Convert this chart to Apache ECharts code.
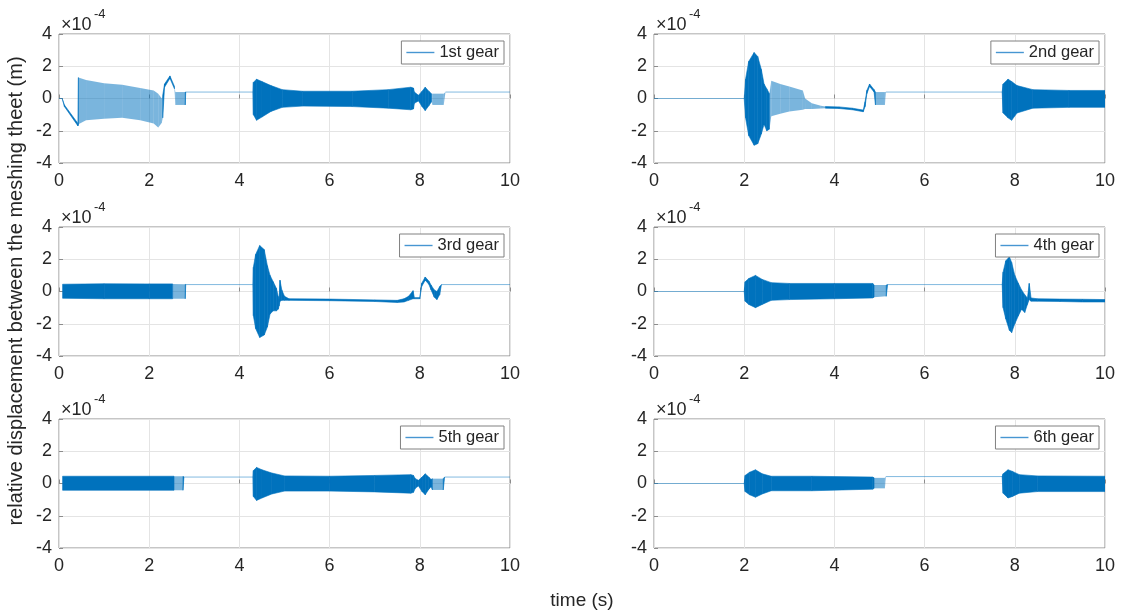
<!DOCTYPE html>
<html>
<head>
<meta charset="utf-8">
<title>relative displacement of gears</title>
<script src="https://cdn.jsdelivr.net/npm/echarts@6/dist/echarts.min.js"></script>
<style>
html, body { margin: 0; padding: 0; background: #fff; }
#main { width: 1121px; height: 614px; }
</style>
</head>
<body>
<div id="main"></div>
<script>
// axis ticks: time (s) and displacement (x1e-4 m)
var timeTicks = [0, 2, 4, 6, 8, 10];
var dispTicks = [-4, -2, 0, 2, 4];
var gearNames = ['1st gear', '2nd gear', '3rd gear', '4th gear', '5th gear', '6th gear'];

// envelope of each signal: [time, upper, lower], unit 1e-4 m
var gear1 = [
	[0, 0, 0], [0.07, 0, 0], [0.12, -0.4, -0.5], [0.42, -1.55, -1.7], [0.43, 1.3, -1.6],
	[0.6, 1.15, -1.35], [1.0, 0.95, -1.25], [1.4, 0.85, -1.2], [1.8, 0.65, -1.35],
	[2.1, 0.5, -1.55], [2.2, 0.3, -1.8], [2.28, 0.0, -1.5], [2.3, 0.2, -1.2],
	[2.34, 0.9, 0.7], [2.46, 1.4, 1.25], [2.56, 0.75, 0.6], [2.58, 0.4, -0.4], [2.8, 0.4, -0.4],
	[2.81, 0.4, 0.4], [4.3, 0.4, 0.4], [4.31, 1.0, -1.0], [4.38, 1.2, -1.35], [4.5, 1.05, -1.15],
	[4.7, 0.8, -0.8], [4.95, 0.55, -0.55], [5.4, 0.45, -0.47], [6.5, 0.45, -0.5], [7.3, 0.55, -0.6],
	[7.8, 0.7, -0.7], [7.86, 0.65, -0.65], [7.88, 0.4, -0.3], [7.97, 0.2, -0.15], [8.05, 0.45, -0.5],
	[8.12, 0.7, -0.75], [8.2, 0.45, -0.45], [8.26, 0.3, -0.2], [8.28, 0.3, -0.4], [8.53, 0.3, -0.4],
	[8.57, 0.4, 0.4], [10, 0.4, 0.4]
];
var gear1Sparse = [[0.43, 2.3], [2.57, 2.8], [8.27, 8.55]];

var gear2 = [
	[0, 0, 0], [2.0, 0, 0], [2.03, 1.2, -1.2], [2.1, 2.3, -2.3], [2.22, 2.85, -2.9], [2.3, 2.6, -2.8],
	[2.38, 1.8, -2.2], [2.44, 0.9, -1.6], [2.5, 0.6, -2.0], [2.56, 0.3, -1.9], [2.6, 1.1, -1.1],
	[2.8, 0.9, -0.95], [3.0, 0.75, -0.8], [3.3, 0.5, -0.7], [3.35, 0.0, -0.65], [3.5, -0.3, -0.65],
	[3.7, -0.45, -0.62], [3.8, -0.5, -0.6], [4.1, -0.52, -0.62], [4.4, -0.6, -0.7], [4.64, -0.72, -0.82],
	[4.68, -0.2, -0.5], [4.72, 0.5, 0.3], [4.78, 0.9, 0.75], [4.88, 0.55, 0.4], [4.91, 0.4, -0.4],
	[5.12, 0.4, -0.4], [5.14, 0.4, 0.4], [7.72, 0.4, 0.4], [7.74, 0.9, -0.9], [7.85, 1.2, -1.2],
	[7.93, 1.05, -1.35], [8.05, 0.8, -0.9], [8.4, 0.55, -0.6], [9.2, 0.5, -0.55], [10, 0.5, -0.55]
];
var gear2Sparse = [[2.58, 3.75], [4.9, 5.13]];

var gear3 = [
	[0.08, 0.45, -0.42], [1.0, 0.48, -0.45], [2.0, 0.47, -0.45], [2.52, 0.47, -0.45], [2.8, 0.45, -0.45],
	[2.81, 0.43, 0.43], [4.3, 0.43, 0.43], [4.31, 1.5, -1.5], [4.36, 2.3, -2.3], [4.45, 2.85, -2.85],
	[4.55, 2.6, -2.7], [4.62, 1.6, -2.2], [4.68, 1.0, -1.4], [4.75, 0.6, -1.2], [4.82, 0.2, -1.2],
	[4.86, -0.3, -1.1], [4.88, -0.5, -0.9], [4.9, 0.7, -0.6], [4.94, 0.1, -0.55], [5.0, -0.3, -0.55],
	[5.1, -0.45, -0.55], [6.0, -0.47, -0.57], [7.0, -0.52, -0.62], [7.5, -0.55, -0.68],
	[7.65, -0.45, -0.65], [7.75, -0.3, -0.55], [7.85, 0.05, -0.45], [7.88, -0.38, -0.45],
	[8.0, -0.38, -0.45], [8.04, 0.5, 0.3], [8.12, 0.9, 0.7], [8.2, 0.65, 0.45], [8.25, 0.4, 0.1],
	[8.32, 0.1, -0.35], [8.38, 0.0, -0.5], [8.44, 0.3, -0.2], [8.48, 0.43, 0.43], [10, 0.43, 0.43]
];
var gear3Sparse = [[2.52, 2.8]];

var gear4 = [
	[0, 0, 0], [2.0, 0, 0], [2.02, 0.6, -0.6], [2.1, 0.8, -0.8], [2.25, 1.0, -1.0], [2.4, 0.75, -0.8],
	[2.6, 0.55, -0.55], [3.0, 0.5, -0.5], [4.0, 0.5, -0.45], [4.85, 0.5, -0.4], [4.88, 0.4, -0.35],
	[5.15, 0.4, -0.3], [5.18, 0.43, 0.43], [7.72, 0.43, 0.43], [7.74, 1.2, -1.0], [7.8, 1.9, -1.7],
	[7.88, 2.15, -2.4], [7.93, 1.8, -2.55], [8.0, 1.0, -2.0], [8.08, 0.5, -1.5], [8.15, 0.1, -1.1],
	[8.22, -0.2, -1.3], [8.28, -0.4, -0.8], [8.32, 0.5, -0.5], [8.36, -0.4, -0.6], [8.5, -0.45, -0.6],
	[9.0, -0.47, -0.62], [9.5, -0.48, -0.65], [10, -0.5, -0.65]
];
var gear4Sparse = [[4.87, 5.16]];

var gear5 = [
	[0.08, 0.45, -0.42], [2.55, 0.45, -0.42], [2.75, 0.45, -0.42], [2.77, 0.4, 0.4], [4.3, 0.4, 0.4],
	[4.31, 0.8, -0.8], [4.38, 1.0, -1.05], [4.5, 0.85, -0.9], [4.72, 0.65, -0.65], [5.0, 0.47, -0.47],
	[6.0, 0.45, -0.47], [7.0, 0.5, -0.52], [7.8, 0.55, -0.6], [7.86, 0.5, -0.55], [7.9, 0.3, -0.3],
	[7.97, 0.2, -0.15], [8.05, 0.4, -0.5], [8.12, 0.6, -0.7], [8.2, 0.4, -0.35], [8.25, 0.25, -0.2],
	[8.28, 0.3, -0.4], [8.52, 0.3, -0.4], [8.55, 0.4, 0.4], [10, 0.4, 0.4]
];
var gear5Sparse = [[2.55, 2.75], [8.27, 8.53]];

var gear6 = [
	[0, 0, 0], [2.0, 0, 0], [2.02, 0.5, -0.5], [2.12, 0.7, -0.7], [2.25, 0.85, -0.85], [2.4, 0.6, -0.65],
	[2.6, 0.45, -0.45], [3.5, 0.45, -0.45], [4.85, 0.4, -0.35], [4.88, 0.35, -0.3], [5.12, 0.35, -0.3],
	[5.14, 0.43, 0.43], [7.72, 0.43, 0.43], [7.74, 0.6, -0.6], [7.85, 0.85, -0.9], [7.95, 0.75, -0.8],
	[8.1, 0.55, -0.6], [8.5, 0.47, -0.5], [10, 0.45, -0.5]
];
var gear6Sparse = [[4.87, 5.13]];

var gears = [gear1, gear2, gear3, gear4, gear5, gear6];
var sparseRanges = [gear1Sparse, gear2Sparse, gear3Sparse, gear4Sparse, gear5Sparse, gear6Sparse];

var BLUE = '#0072BD';
var FONT = '"Liberation Sans", Arial, Helvetica, sans-serif';
var TEXT = '#262626';

// subplot layout (pixels)
var colLeft = [59, 654];
var rowTop = [34, 227, 419];
var plotW = 451, plotH = 129;

// band pieces between two envelope samples
function makeSegments(env, ranges) {
	var out = [];
	for (var i = 0; i < env.length - 1; i++) {
		var a = env[i], b = env[i + 1];
		var mid = (a[0] + b[0]) / 2;
		var sparse = 0;
		for (var k = 0; k < ranges.length; k++) {
			if (mid >= ranges[k][0] && mid <= ranges[k][1]) sparse = 1;
		}
		out.push([a[0], a[1], a[2], b[0], b[1], b[2], sparse]);
	}
	return out;
}

function renderBand(params, api) {
	var t0 = api.value(0), t1 = api.value(3);
	var h0 = api.value(1), l0 = api.value(2), h1 = api.value(4), l1 = api.value(5);
	if (h0 === l0 && h1 === l1) {
		var p = api.coord([t0, h0]), q = api.coord([t1, h1]);
		return {
			type: 'line',
			shape: { x1: p[0], y1: p[1], x2: q[0], y2: q[1] },
			style: { stroke: BLUE, lineWidth: 0.7, opacity: 0.7, lineCap: 'butt' }
		};
	}
	var pts = [api.coord([t0, h0]), api.coord([t1, h1]), api.coord([t1, l1]), api.coord([t0, l0])];
	var sparse = api.value(6) === 1;
	return {
		type: 'polygon',
		shape: { points: pts },
		style: sparse
			? { fill: 'rgba(0,114,189,0.52)', stroke: null }
			: { fill: BLUE, stroke: BLUE, lineWidth: 0.6 }
	};
}

function buildOption() {
	var grids = [], xAxes = [], yAxes = [], series = [], legends = [], graphics = [];
	for (var i = 0; i < 6; i++) {
		var col = i % 2, row = Math.floor(i / 2);
		var gLeft = colLeft[col], gTop = rowTop[row];
		grids.push({
			left: gLeft, top: gTop, width: plotW, height: plotH,
			show: true, borderColor: '#8c8c8c', borderWidth: 1, backgroundColor: '#fff'
		});
		xAxes.push({
			type: 'value', gridIndex: i,
			min: timeTicks[0], max: timeTicks[timeTicks.length - 1], interval: timeTicks[1] - timeTicks[0],
			axisLine: { show: false },
			axisTick: { show: true, inside: true, length: 4, lineStyle: { color: '#8c8c8c' } },
			axisLabel: { fontSize: 18, color: TEXT, fontFamily: FONT, margin: 9 },
			splitLine: { show: true, lineStyle: { color: '#e4e4e4', width: 1 } }
		});
		yAxes.push({
			type: 'value', gridIndex: i,
			min: dispTicks[0], max: dispTicks[dispTicks.length - 1], interval: dispTicks[1] - dispTicks[0],
			axisLine: { show: false },
			axisTick: { show: true, inside: true, length: 4, lineStyle: { color: '#8c8c8c' } },
			axisLabel: { fontSize: 18, color: TEXT, fontFamily: FONT, margin: 7 },
			splitLine: { show: true, lineStyle: { color: '#e4e4e4', width: 1 } }
		});
		series.push({
			type: 'custom',
			name: gearNames[i] + ' signal',
			xAxisIndex: i, yAxisIndex: i,
			renderItem: renderBand,
			encode: { x: [0, 3], y: [1, 2, 4, 5] },
			data: makeSegments(gears[i], sparseRanges[i]),
			clip: true, silent: true, animation: false
		});
		// empty line series, only for the legend entry
		series.push({
			type: 'line', name: gearNames[i], xAxisIndex: i, yAxisIndex: i,
			data: [], symbol: 'none', lineStyle: { color: BLUE, width: 1 }, itemStyle: { color: BLUE }
		});
		legends.push({
			data: [{ name: gearNames[i], icon: 'rect' }],
			right: 1121 - (gLeft + plotW) + 6, top: gTop + 7,
			itemWidth: 28, itemHeight: 1.4, itemGap: 0,
			padding: [3, 5, 3, 5],
			borderColor: '#808080', borderWidth: 1, backgroundColor: '#fff',
			selectedMode: false,
			itemStyle: { color: '#4796d2' },
			textStyle: { fontSize: 16.5, color: TEXT, fontFamily: FONT }
		});
		graphics.push({
			type: 'text', left: gLeft + 2, top: gTop - 18,
			style: { text: '\u00d710', font: '18px ' + FONT, fill: TEXT }
		});
		graphics.push({
			type: 'text', left: gLeft + 35, top: gTop - 26,
			style: { text: '-4', font: '13px ' + FONT, fill: TEXT }
		});
	}

	graphics.push({
		type: 'text', x: 16, y: 291, rotation: Math.PI / 2,
		style: {
			text: 'relative displacement between the meshing theet (m)',
			font: '20px ' + FONT, fill: TEXT, align: 'center', verticalAlign: 'middle'
		}
	});
	graphics.push({
		type: 'text', x: 582, y: 601,
		style: { text: 'time (s)', font: '19px ' + FONT, fill: TEXT, align: 'center', verticalAlign: 'middle' }
	});

	return {
		animation: false,
		backgroundColor: '#fff',
		grid: grids,
		xAxis: xAxes,
		yAxis: yAxes,
		legend: legends,
		series: series,
		graphic: graphics
	};
}

var chart = echarts.init(document.getElementById('main'), null, { renderer: 'canvas' });
chart.setOption(buildOption());
</script>
</body>
</html>
